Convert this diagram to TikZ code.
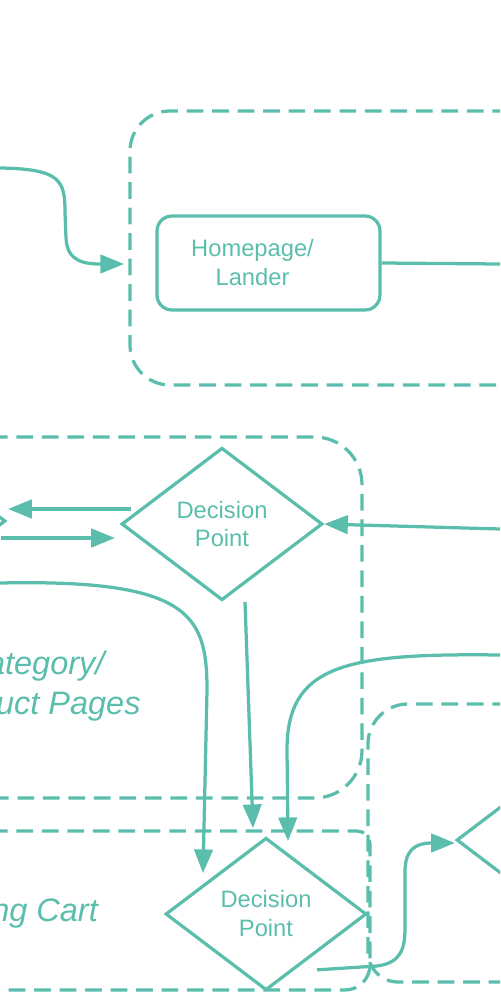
\documentclass[tikz,border=0pt]{standalone}
\usepackage{fontspec}
\setmainfont{Liberation Sans}
\usetikzlibrary{shapes.geometric,arrows.meta,calc}
\definecolor{flowteal}{RGB}{91,190,172}
\tikzset{
  flow/.style={draw=flowteal, line width=1.85pt},
  arr/.style={flow, -{Triangle[length=13.5pt,width=10.5pt]}},
  zone/.style={draw=flowteal, line width=1.85pt, dash pattern=on 9.5pt off 5pt},
  decision/.style={diamond, draw=flowteal, line width=1.85pt, minimum width=4.02cm,
    minimum height=3.05cm, inner sep=0pt, align=center, text=flowteal,
    font=\fontsize{13.5}{16.5}\selectfont},
  pagebox/.style={rectangle, rounded corners=0.3cm, draw=flowteal, line width=1.85pt,
    minimum width=4.46cm, minimum height=1.88cm},
  pagetext/.style={align=center, text=flowteal, font=\fontsize{13.5}{16.5}\selectfont},
  zonetitle/.style={align=center, text=flowteal, font=\fontsize{18.5}{22.8}\selectfont\itshape},
}
\begin{document}
\begin{tikzpicture}[x=0.02cm, y=-0.02cm]
\useasboundingbox (0,0) rectangle (500,1000);
\clip (0,0) rectangle (500,1000);
% zones
\draw[zone, rounded corners=0.8cm] (560,111) -| (130,385) -- (560,385);
\draw[zone, rounded corners=0.95cm] (-60,437) -| (362,798) -- (-60,798);
\draw[zone] (-60,831) [rounded corners=0.26cm] -| (370,900) [rounded corners=0.5cm] |- (-60,990);
\draw[zone] (560,704) [rounded corners=0.8cm] -| (368,850) [rounded corners=0.6cm] |- (560,982);

% zone titles
\node[zonetitle] (catTitle) at (34,686) {Category/\\Product Pages};
\node[zonetitle] (cartTitle) at (-6,913) {Shopping Cart};

% steps
\node[pagebox] (home) at (268.5,263) {};
\node[pagetext] (homeText) at ($(home.center)+(-16,0)$) {Homepage/\\Lander};
\node[decision] (cat) at (-95,521) {};
\node[decision] (dp1) at (222,524) {Decision\\[-0.5pt]Point};
\node[decision] (dp2) at (266,914) {Decision\\Point};
\node[decision] (dp3) at (557,840) {};

% loose ends
\coordinate (entry) at (0,168);
\coordinate (zoneEdge) at (124,264);
\coordinate (homeOut) at (500,264);
\coordinate (fromRight) at (500,529);
\coordinate (fromLeft) at (0,583);
\coordinate (fromRightLow) at (500,655);

% connectors
\draw[arr] (entry) .. controls (60,169) and (65,180) .. (65,212) -- (66,238)
  .. controls (67,262) and (85,264) .. (zoneEdge);
\draw[flow] (home.east) -- (homeOut);
\draw[arr] (fromRight) -- (dp1.east);
\draw[arr] ($(dp1.west)+(11,-15)$) -- ($(cat.east)+(1,-12)$);
\draw[arr] ($(cat.east)+(-6,17)$) -- ($(dp1.west)+(-5,14)$);
\draw[arr] (fromLeft) .. controls (190,579) and (207,615) .. (207,690)
  -- ($(dp2.north)+(-63,37)$);
\draw[arr] ($(dp1.south)+(23,0)$) -- ($(dp2.north)+(-13,-8)$);
\draw[arr] (fromRightLow) .. controls (345,653) and (287,665) .. (287,750)
  -- ($(dp2.north)+(22,5)$);
\draw[arr] ($(dp2.south)+(51,-22)$) -- (377,966) .. controls (400,963) and (405,950) .. (405,928)
  -- (405,872) .. controls (405,850) and (415,843) .. ($(dp3.west)+(0,3)$);
\end{tikzpicture}
\end{document}
